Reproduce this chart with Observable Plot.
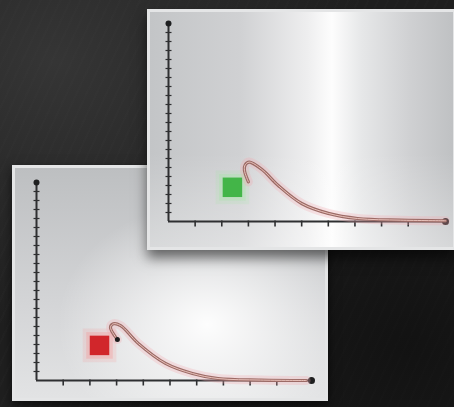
<!DOCTYPE html>
<html>
<head>
<meta charset="utf-8">
<script src="https://cdn.jsdelivr.net/npm/d3@7"></script>
<script src="https://cdn.jsdelivr.net/npm/@observablehq/plot@0.6"></script>
<style>
  html, body { margin: 0; padding: 0; background: #1e1e1e; }
  #stage {
    position: relative; width: 454px; height: 407px; overflow: hidden;
    background:
      radial-gradient(ellipse at 12% 15%, rgba(75,75,75,0.5), rgba(0,0,0,0) 55%),
      radial-gradient(ellipse at 90% 85%, rgba(10,10,10,0.6), rgba(0,0,0,0) 60%),
      repeating-linear-gradient(115deg, rgba(255,255,255,0.012) 0 2px, rgba(0,0,0,0) 2px 9px),
      #1f1f1f;
  }
  .panel { position: absolute; box-sizing: border-box; border: 3px solid #e4e5e6; }
  #bottomPanel {
    left: 12px; top: 165px; width: 316px; height: 236px;
    background:
      radial-gradient(ellipse at 62% 68%, rgba(255,255,255,0.95), rgba(255,255,255,0) 55%),
      linear-gradient(180deg, #bdbfc1 0%, #d4d5d7 60%, #e2e3e4 100%);
    box-shadow: 0 4px 10px rgba(0,0,0,0.6);
  }
  #topPanel {
    left: 147px; top: 9px; width: 309px; height: 241px;
    background:
      linear-gradient(180deg, rgba(255,255,255,0) 60%, rgba(255,255,255,0.35) 100%),
      linear-gradient(90deg, #c3c5c7 0%, #d0d1d3 30%, #eeeeef 52%, #fdfdfd 60%, #e6e7e8 70%, #cfd0d2 86%, #bfc1c3 100%);
    box-shadow: 0 8px 12px rgba(0,0,0,0.55);
  }
</style>
</head>
<body>
<div id="stage">
  <div id="bottomPanel" class="panel"></div>
  <div id="topPanel" class="panel"></div>
</div>
<script>
// ---- data ----
const xTicks = [1, 2, 3, 4, 5, 6, 7, 8, 9];
const yTicks = [1, 2, 3, 4, 5, 6, 7, 8, 9, 10, 11, 12, 13, 14, 15, 16, 17, 18, 19, 20, 21];

// upper chart (green marker)
const topCurveX = [3.0, 2.85, 2.88, 3.03, 3.5, 4.12, 5.0, 6.0, 7.1, 8.7, 10.4];
const topCurveY = [4.4, 5.7, 6.3, 6.6, 5.8, 4.0, 2.0, 0.9, 0.33, 0.15, 0.08];
const topMarker = [{x: 2.4, y: 3.8}];
const topAxisMax = {x: 10.4, y: 22};

// lower chart (red marker)
const bottomCurveX = [3.03, 2.77, 2.88, 3.15, 3.82, 4.83, 5.84, 6.8, 8.4, 10.1];
const bottomCurveY = [4.55, 5.9, 6.3, 6.1, 4.1, 1.9, 0.78, 0.22, 0.05, 0.0];
const bottomMarker = [{x: 2.36, y: 3.9}];
const bottomStart = [{x: 3.03, y: 4.55}];
const bottomAxisMax = {x: 10.3, y: 22};

// ---- custom tick symbols (stroke only) ----
const downTick = { draw(ctx) { ctx.moveTo(0, -1); ctx.lineTo(0, 5); } };
const sideTick = { draw(ctx) { ctx.moveTo(-3, 0); ctx.lineTo(3, 0); } };

function panel({width, height, margins, axisMax, curveX, curveY, marker, markerColor, glowColor, extra}) {
  const curve = curveX.map((x, i) => ({x, y: curveY[i]}));
  const axisColor = "#2e2f31";
  const marks = [
    Plot.ruleY([0], {x1: 0, x2: axisMax.x, stroke: axisColor, strokeWidth: 2}),
    Plot.ruleX([0], {y1: 0, y2: axisMax.y, stroke: axisColor, strokeWidth: 2}),
    Plot.dot(xTicks, {x: d => d, y: 0, symbol: downTick, fill: "none", stroke: axisColor, strokeWidth: 1.6}),
    Plot.dot(yTicks, {x: 0, y: d => d, symbol: sideTick, fill: "none", stroke: axisColor, strokeWidth: 1.2}),
    Plot.dot([axisMax], {x: "x", y: 0, r: 3.5, fill: "#1e1f20"}),
    Plot.dot([axisMax], {x: 0, y: "y", r: 3, fill: "#1e1f20"}),
    Plot.dot(marker, {x: "x", y: "y", symbol: "square", r: 19, fill: glowColor, fillOpacity: 0.12}),
    Plot.dot(marker, {x: "x", y: "y", symbol: "square", r: 15, fill: glowColor, fillOpacity: 0.2}),
    Plot.dot(marker, {x: "x", y: "y", symbol: "square", r: 11, fill: markerColor}),
    Plot.line(curve, {x: "x", y: "y", curve: "catmull-rom", stroke: "#f2a9b0", strokeWidth: 9, strokeOpacity: 0.3}),
    Plot.line(curve, {x: "x", y: "y", curve: "catmull-rom", stroke: "#9c6b66", strokeWidth: 3.2}),
    Plot.line(curve, {x: "x", y: "y", curve: "catmull-rom", stroke: "#e9c3bc", strokeWidth: 1})
  ];
  if (extra) marks.push(...extra);
  return Plot.plot({
    width, height,
    marginTop: margins[0], marginRight: margins[1], marginBottom: margins[2], marginLeft: margins[3],
    x: {domain: [0, axisMax.x], axis: null},
    y: {domain: [0, axisMax.y], axis: null},
    style: {background: "transparent", overflow: "visible"},
    marks
  });
}

document.getElementById("bottomPanel").append(panel({
  width: 310, height: 230, margins: [14, 14, 18, 21],
  axisMax: bottomAxisMax, curveX: bottomCurveX, curveY: bottomCurveY,
  marker: bottomMarker, markerColor: "#d1262b", glowColor: "#ff6b6b",
  extra: [Plot.dot(bottomStart, {x: "x", y: "y", r: 2.5, fill: "#1c1c1c"})]
}));

document.getElementById("topPanel").append(panel({
  width: 303, height: 235, margins: [11, 8, 26, 18],
  axisMax: topAxisMax, curveX: topCurveX, curveY: topCurveY,
  marker: topMarker, markerColor: "#43b548", glowColor: "#8ef08e"
}));
</script>
</body>
</html>
